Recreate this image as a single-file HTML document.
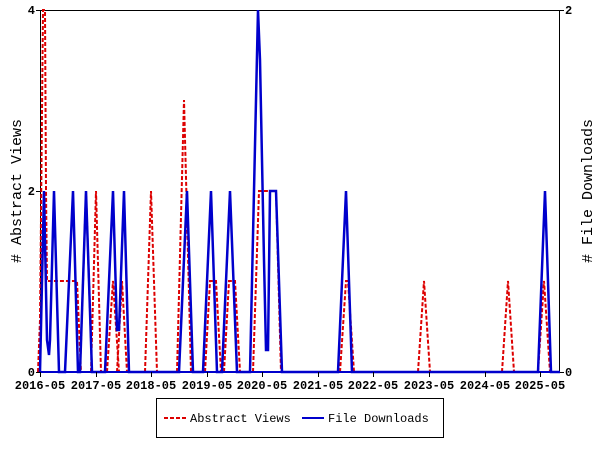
<!DOCTYPE html>
<html><head><style>
body{margin:0;background:#fff;}
svg{display:block;font-family:"Liberation Mono","DejaVu Sans Mono",monospace;}
</style></head><body>
<svg width="600" height="450" viewBox="0 0 600 450" xmlns="http://www.w3.org/2000/svg">
<rect width="600" height="450" fill="#fff"/>
<rect x="40.5" y="10.5" width="519" height="362" fill="none" stroke="#000" stroke-width="1"/>
<g fill="none" stroke="#dd0000" stroke-width="2" stroke-dasharray="4,2">
<polyline points="38,372 40,320 43,10 45,10 46,190 47,281 77,281 81,372"/>
<polyline points="80,372 86,191 92,372"/>
<polyline points="91,372 96,191 101,372"/>
<polyline points="107,372 113,281 119,372"/>
<polyline points="117,372 122,281 127,372"/>
<polyline points="145,372 151,191 157,372"/>
<polyline points="177,372 184,100 191,372"/>
<polyline points="205,372 210,281 216,281 221,372"/>
<polyline points="224,372 229,281 235,281 240,372"/>
<polyline points="253,372 259,191 276,191 281,372"/>
<polyline points="340,372 346,281 348,281 354,372"/>
<polyline points="418,372 424,281 430,372"/>
<polyline points="502,372 508,281 514,372"/>
<polyline points="538,372 544,281 550,372"/>
</g>
<polyline fill="none" stroke="#0000cc" stroke-width="2.5" stroke-linejoin="miter" points="
40,372 44,191 47,340 49,355 50,340 54,191 59,372
65,372 73,191 78,372 80,372 86,191 92,372
105,372 113,191 117,330 119,330 124,191 129,372
179,372 187,191 193,372
203,372 211,191 217,372 222,372 230,191 237,372
250,372 256,100 258,10 260,60 264,260 266,350 268,350 270,191 276,191 282,372
338,372 346,191 352,372
538,372 545,191 551,372 560,372"/>
<line x1="40" y1="372" x2="560" y2="372" stroke="#0000cc" stroke-width="2"/>
<g stroke="#000" stroke-width="1">
<line x1="36" y1="10.5" x2="40" y2="10.5"/><line x1="36" y1="191.5" x2="40" y2="191.5"/><line x1="36" y1="372.5" x2="40" y2="372.5"/>
<line x1="560" y1="10.5" x2="564" y2="10.5"/><line x1="560" y1="372.5" x2="564" y2="372.5"/>
<line x1="40.5" y1="372" x2="40.5" y2="377"/><line x1="96.5" y1="372" x2="96.5" y2="377"/><line x1="151.5" y1="372" x2="151.5" y2="377"/><line x1="207.5" y1="372" x2="207.5" y2="377"/><line x1="262.5" y1="372" x2="262.5" y2="377"/><line x1="318.5" y1="372" x2="318.5" y2="377"/><line x1="373.5" y1="372" x2="373.5" y2="377"/><line x1="429.5" y1="372" x2="429.5" y2="377"/><line x1="485.5" y1="372" x2="485.5" y2="377"/><line x1="540.5" y1="372" x2="540.5" y2="377"/>
</g>
<g font-size="12" font-weight="bold" fill="#000">
<text x="35" y="14" text-anchor="end">4</text>
<text x="35" y="195" text-anchor="end">2</text>
<text x="35" y="376" text-anchor="end">0</text>
<text x="565" y="14">2</text>
<text x="565" y="376">0</text>
<g text-anchor="middle">
<text x="40" y="389">2016-05</text><text x="96" y="389">2017-05</text><text x="151" y="389">2018-05</text><text x="207" y="389">2019-05</text><text x="262" y="389">2020-05</text><text x="318" y="389">2021-05</text><text x="373" y="389">2022-05</text><text x="429" y="389">2023-05</text><text x="485" y="389">2024-05</text><text x="540" y="389">2025-05</text>
</g>
</g>
<text transform="translate(21,191) rotate(-90)" text-anchor="middle" font-size="15">#  Abstract Views</text>
<text transform="translate(592,191) rotate(-90)" text-anchor="middle" font-size="15"># File Downloads</text>
<rect x="156.5" y="398.5" width="287" height="39" fill="#fff" stroke="#000"/>
<line x1="164" y1="418" x2="186" y2="418" stroke="#dd0000" stroke-width="2" stroke-dasharray="4,2"/>
<text x="190" y="422" font-size="12" fill="#000">Abstract Views</text>
<line x1="302" y1="418" x2="324" y2="418" stroke="#0000cc" stroke-width="2"/>
<text x="328" y="422" font-size="12" fill="#000">File Downloads</text>
</svg>
</body></html>
